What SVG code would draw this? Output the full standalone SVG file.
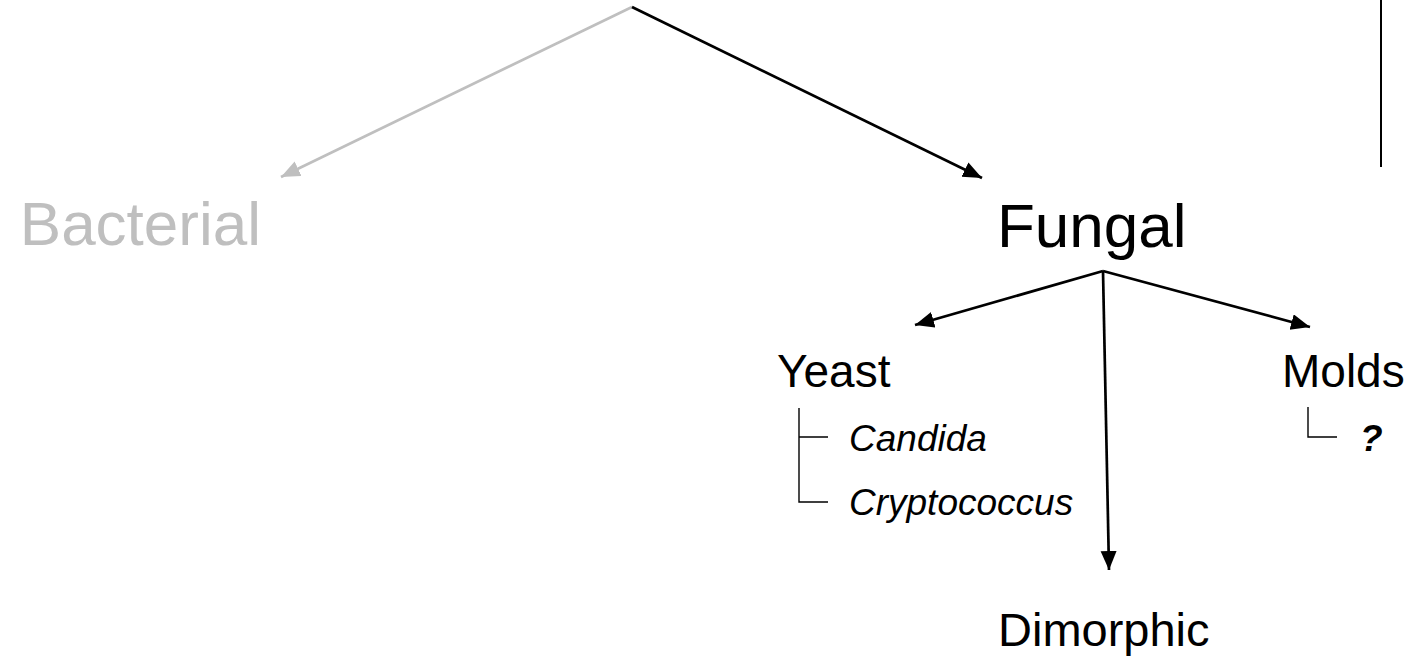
<svg xmlns="http://www.w3.org/2000/svg" width="1420" height="659" viewBox="0 0 1420 659">
<style>
  .t{font-family:"Liberation Sans",Arial,sans-serif;fill:#000}
  .big{font-size:62px}
  .mid{font-size:46px}
  .sp{font-size:37px;font-style:italic}
  .gray{fill:#bfbfbf}
  .ln{stroke:#000;stroke-width:2.7;fill:none}
  .lg{stroke:#bfbfbf;stroke-width:2.7;fill:none}
  .thin{stroke:#000;stroke-width:1.4;fill:none}
</style>
<defs>
  <marker id="ab" markerUnits="userSpaceOnUse" markerWidth="20" markerHeight="18" refX="19" refY="8" orient="auto">
    <path d="M0,0 L19,8 L0,16 z" fill="#000"/>
  </marker>
  <marker id="ag" markerUnits="userSpaceOnUse" markerWidth="20" markerHeight="18" refX="19" refY="8" orient="auto">
    <path d="M0,0 L19,8 L0,16 z" fill="#bfbfbf"/>
  </marker>
</defs>
<g id="connectors">
  <line class="lg" x1="632" y1="7" x2="281" y2="177" marker-end="url(#ag)"/>
  <line class="ln" x1="632" y1="7" x2="982" y2="178" marker-end="url(#ab)"/>
  <line class="ln" x1="1103" y1="271" x2="915" y2="325" marker-end="url(#ab)"/>
  <line class="ln" x1="1103" y1="271" x2="1310" y2="327" marker-end="url(#ab)"/>
  <line class="ln" x1="1103" y1="271" x2="1109" y2="570" marker-end="url(#ab)"/>
  <line x1="1381" y1="0" x2="1381" y2="167" stroke="#000" stroke-width="2"/>
  <path class="thin" d="M799,408 V502 H828 M799,437 H828"/>
  <path class="thin" d="M1308,407 V437 H1337"/>
</g>
<g id="bacterial"><text class="t big gray" x="261" y="245" text-anchor="end">Bacterial</text></g>
<g id="fungal"><text class="t big" x="997" y="247">Fungal</text></g>
<g id="yeast"><text class="t mid" x="777" y="387">Yeast</text></g>
<g id="candida"><text class="t sp" x="849" y="451">Candida</text></g>
<g id="cryptococcus"><text class="t sp" x="849" y="515">Cryptococcus</text></g>
<g id="molds"><text class="t mid" x="1282" y="387">Molds</text></g>
<g id="unknown"><text class="t sp" x="1360" y="451" font-weight="bold">?</text></g>
<g id="dimorphic"><text class="t mid" x="998" y="646" style="font-size:47px">Dimorphic</text></g>
</svg>
